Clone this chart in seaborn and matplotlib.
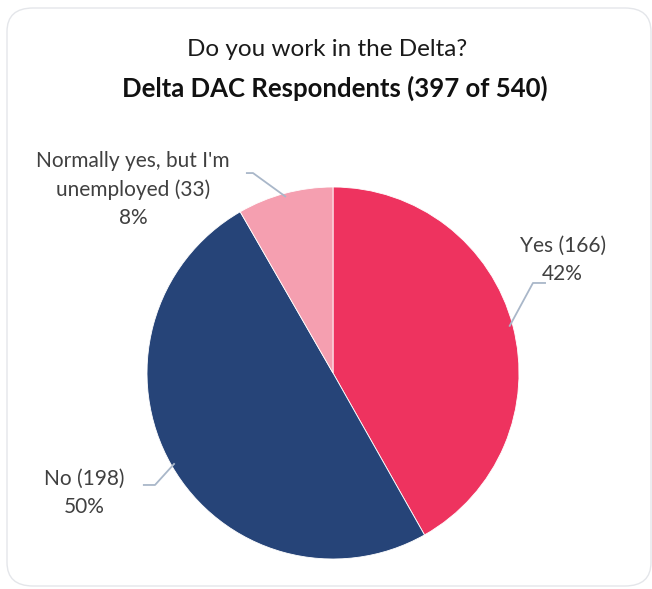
import numpy as np
import matplotlib
matplotlib.use("Agg")
import matplotlib.pyplot as plt
from matplotlib.patches import FancyBboxPatch
import seaborn as sns

# Survey answers
categories = ["Yes", "No", "Normally yes, but I'm\nunemployed"]
counts = [166, 198, 33]
colors = ["#EE335F", "#264478", "#F59FB0"]

title_line1 = "Do you work in the Delta?"
title_line2 = "Delta DAC Respondents (397 of 540)"

sns.set_theme(style="white")
plt.rcParams["font.family"] = ["Lato", "DejaVu Sans"]

fig = plt.figure(figsize=(6.52, 5.89), dpi=100)
fig.patch.set_facecolor("white")

# rounded chart frame
frame = FancyBboxPatch((7 / 652, 3 / 589), 644 / 652, 578 / 589,
                       boxstyle="round,pad=0,rounding_size=0.04",
                       transform=fig.transFigure, facecolor="none",
                       edgecolor="#E4E6EA", linewidth=1.0)
fig.patches.append(frame)

cx, cy, r = 333, 373, 186
ax = fig.add_axes([(cx - r) / 652, 1 - (cy + r) / 589, 2 * r / 652, 2 * r / 589])
wedges, _ = ax.pie(counts, colors=colors, startangle=90, counterclock=False,
                   radius=1.0, wedgeprops=dict(edgecolor="white", linewidth=0.6))
ax.set_xlim(-1, 1)
ax.set_ylim(-1, 1)
ax.set_aspect("equal")
ax.axis("off")

total = sum(counts)
pcts = [round(100 * c / total) for c in counts]

# label placement: (elbow, line end, text centre) in data units
layout = [
    ((1.075, 0.484), (1.145, 0.484), (1.235, 0.61)),
    ((-0.957, -0.602), (-1.022, -0.602), (-1.335, -0.645)),
    ((-0.430, 1.075), (-0.468, 1.075), (-1.075, 0.985)),
]
line_color = "#A9B7C9"
for w, cat, n, p, (elbow, end, txt) in zip(wedges, categories, counts, pcts, layout):
    mid = np.deg2rad((w.theta1 + w.theta2) / 2)
    start = (np.cos(mid) * 0.98, np.sin(mid) * 0.98)
    ax.plot([start[0], elbow[0], end[0]], [start[1], elbow[1], end[1]],
            color=line_color, lw=1.3, clip_on=False, solid_capstyle="butt")
    ax.text(txt[0], txt[1], f"{cat} ({n})\n{p}%", ha="center", va="center",
            fontsize=15, color="#404040", linespacing=1.5)

fig.text(0.502, 1 - 50 / 589, title_line1, ha="center", va="center",
         fontsize=17.5, color="#1a1a1a")
fig.text(0.513, 1 - 88 / 589, title_line2, ha="center", va="center",
         fontsize=18.5, fontweight="bold", color="#111111")

fig.savefig("out.png", dpi=100, facecolor="white")
